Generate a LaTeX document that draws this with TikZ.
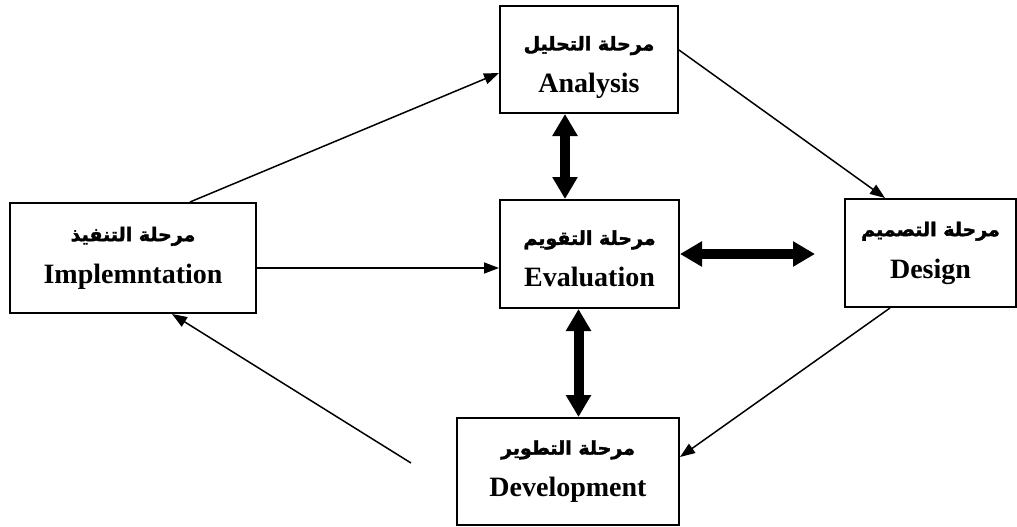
\documentclass[tikz,border=0pt]{standalone}
\usepackage{fontspec}
\setmainfont{Liberation Serif}
\newfontfamily\arabicfont[Script=Arabic,FakeBold=2]{DejaVu Sans}
\TeXXeTstate=1
\usetikzlibrary{arrows.meta}
\tikzset{
    stage/.style={draw,line width=2pt,inner sep=0pt,align=center,
        font=\bfseries\fontsize{28}{42}\selectfont},
    thinarrow/.style={line width=1.5pt,-{Triangle[length=15pt,width=11pt]}},
    fatarrow/.style={line width=10pt,{Triangle[length=22pt,width=24pt]}-{Triangle[length=22pt,width=24pt]}}
}
\newcommand{\ar}[1]{{\arabicfont\fontsize{19}{42}\selectfont\beginR #1\endR}}
\begin{document}
\begin{tikzpicture}[x=1pt,y=-1pt]
        \useasboundingbox (0,0) rectangle (1017,527);
        \node[stage,minimum width=246pt,minimum height=110pt] (impl) at (133,258) {\ar{مرحلة التنفيذ}\\Implemntation};
        \node[stage,minimum width=178pt,minimum height=107pt] (anal) at (589,59.5) {\ar{مرحلة التحليل}\rule{0pt}{30pt}\\Analysis};
        \node[stage,minimum width=179pt,minimum height=108pt] (eval) at (589.5,254) {\ar{مرحلة التقويم}\rule{0pt}{24pt}\\Evaluation};
        \node[stage,minimum width=171pt,minimum height=108pt] (design) at (930.5,253) {\ar{مرحلة التصميم}\\Design};
        \node[stage,minimum width=222pt,minimum height=107pt] (devel) at (568,471.5) {\ar{مرحلة التطوير}\\Development};
        \coordinate (back) at (411,463);
        \coordinate (side) at (815,254);
        \draw[thinarrow] ([xshift=57pt]impl.north) -- ([yshift=-13.5pt]anal.west);
        \draw[thinarrow] ([yshift=-10pt]impl.east) -- ([yshift=-10pt]impl.east -| eval.west);
        \draw[thinarrow] ([yshift=9.5pt]anal.east) -- ([xshift=-45.5pt]design.north);
        \draw[thinarrow] ([xshift=-40.5pt]design.south) -- ([yshift=14.5pt]devel.east);
        \draw[thinarrow] (back) -- ([xshift=39pt]impl.south);
        \draw[fatarrow] ([xshift=-24pt]anal.south) -- ([xshift=-24pt]anal.south |- eval.north);
        \draw[fatarrow] (eval.east) -- (side);
        \draw[fatarrow] ([xshift=-11pt]eval.south) -- ([xshift=-11pt]eval.south |- devel.north);
    \end{tikzpicture}
\end{document}
